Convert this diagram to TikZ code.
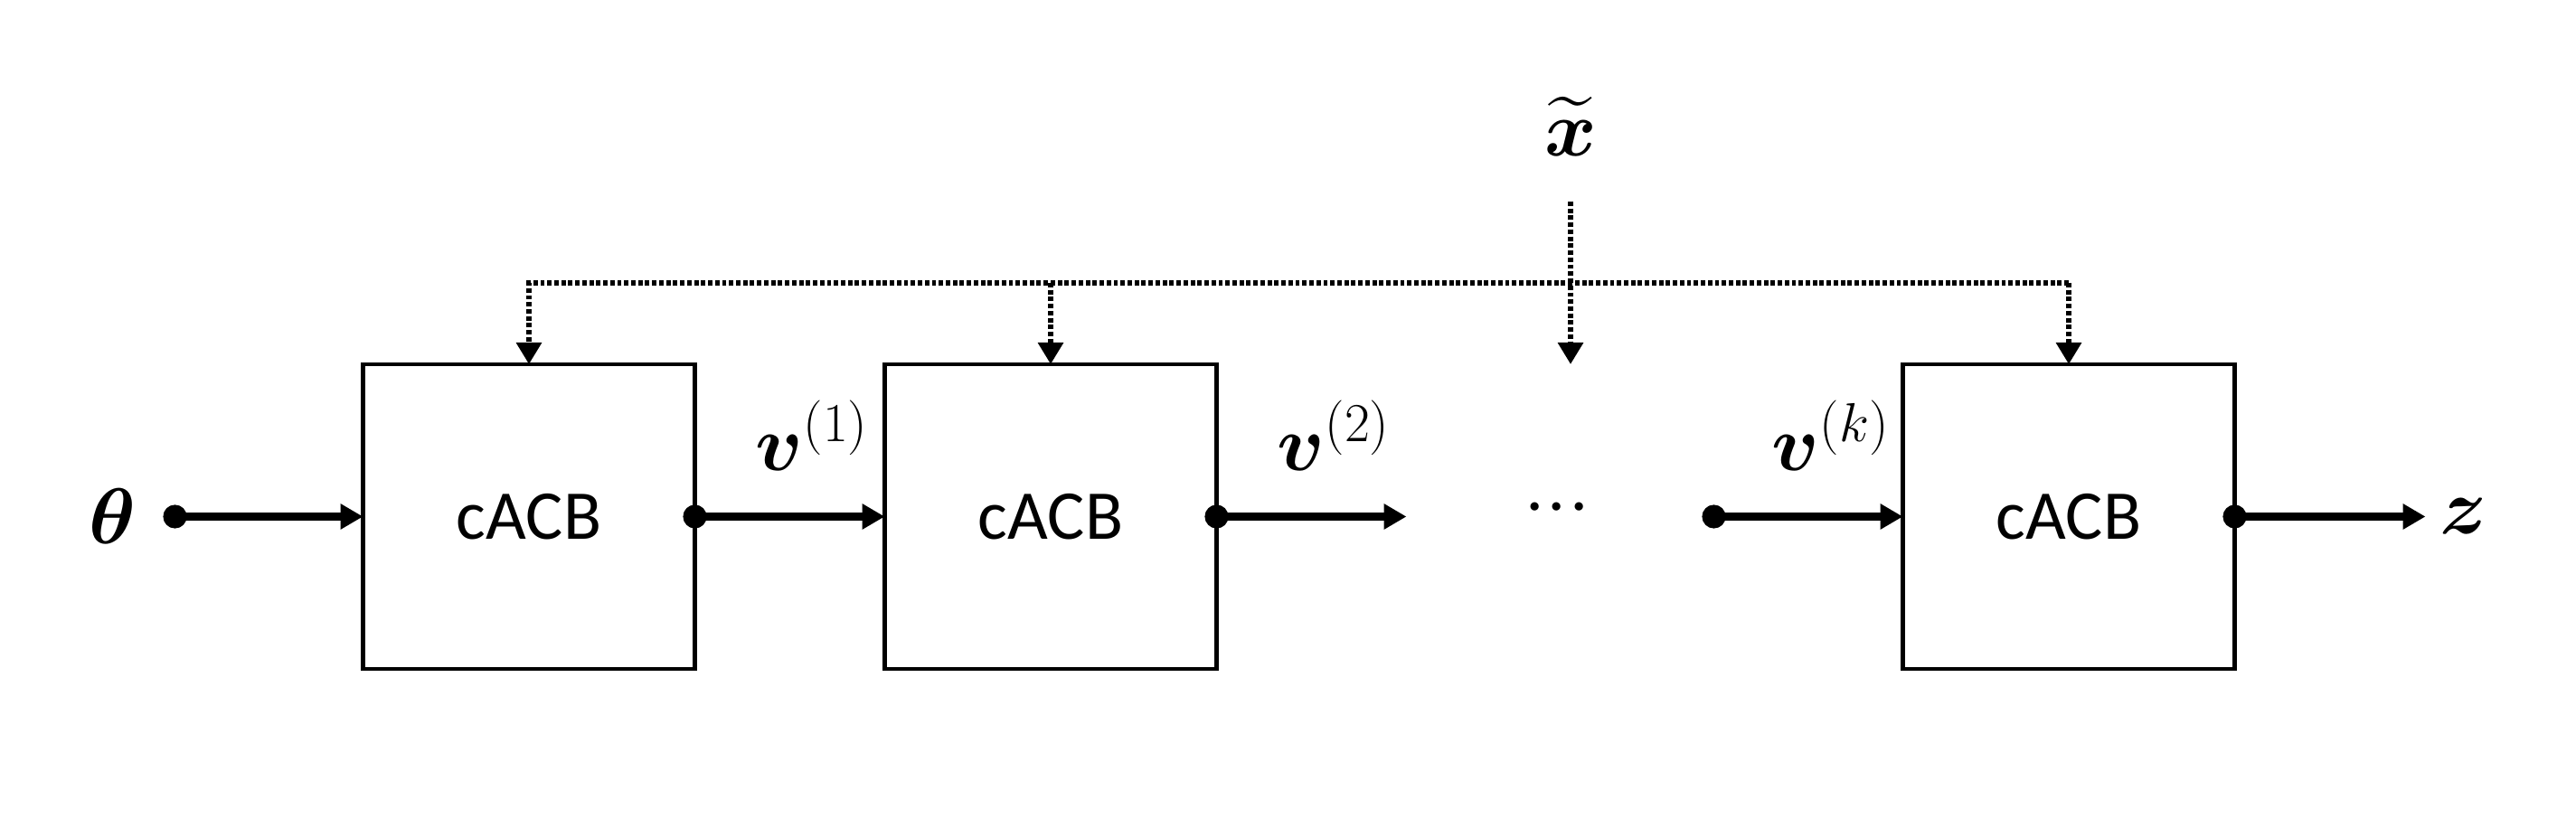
\documentclass[tikz,border=0pt]{standalone}
\usepackage{amsmath}
\usepackage{fontspec}
\setmainfont{Carlito}
\usetikzlibrary{arrows.meta,positioning}

\begin{document}
\begin{tikzpicture}[
  block/.style={draw,line width=1.4pt,minimum width=3.67cm,minimum height=3.37cm,
                inner sep=0pt,outer sep=0pt,font=\fontsize{22}{26}\selectfont},
  mlab/.style={font=\fontsize{24}{28}\selectfont,inner sep=1pt},
  vlab/.style={mlab,xshift=0.25cm,yshift=0.9cm},
  flow/.style={line width=2.4pt,shorten <=-0.13cm,
               {Circle[length=0.26cm]}-{Triangle[length=0.25cm,width=0.27cm]}},
  fb/.style={line width=1.7pt,dash pattern=on 1.4pt off 0.8pt,
             -{Triangle[length=0.24cm,width=0.27cm]}}
]
\useasboundingbox (0,0) rectangle (28.49,-9.16);
% chain of blocks
\node[block] (b1) at (5.85,-5.715) {cACB};
\node[block,right=2.1cm of b1] (b2) {cACB};
\node[block,right=7.59cm of b2] (b3) {cACB};

% inputs and outputs
\coordinate[left=2.08cm of b1.west] (in);
\node[mlab] (theta) at ([xshift=-0.69cm]in) {$\boldsymbol{\theta}$};
\coordinate[right=2.1cm of b2.east] (o2);
\coordinate[left=2.09cm of b3.west] (ik);
\coordinate[right=2.11cm of b3.east] (out);
\node[mlab,right=0.12cm of out] (z) {$\boldsymbol{z}$};
\node[mlab] (dots) at (17.22,-5.63) {${\cdot}{\cdot}{\cdot}$};

\draw[flow] (in)--(b1.west);
\draw[flow] (b1.east)--node[vlab]{$\boldsymbol{v}^{(1)}$}(b2.west);
\draw[flow] (b2.east)--node[vlab]{$\boldsymbol{v}^{(2)}$}(o2);
\draw[flow] (ik)--node[vlab]{$\boldsymbol{v}^{(k)}$}(b3.west);
\draw[flow] (b3.east)--(out);

% shared input
\node[mlab] (xt) at (17.37,-1.40) {$\widetilde{\boldsymbol{x}}$};
\coordinate (xin) at (17.37,-2.23);
\coordinate (xout) at (xin |- b1.north);
\coordinate[above=0.9cm of b1.north] (bus);
\draw[fb] (xin)--(xout);
\draw[fb] (bus -| b3.north) -| (b1.north);
\draw[fb] (bus -| b2.north)--(b2.north);
\draw[fb] (bus -| b3.north)--(b3.north);
\end{tikzpicture}
\end{document}
